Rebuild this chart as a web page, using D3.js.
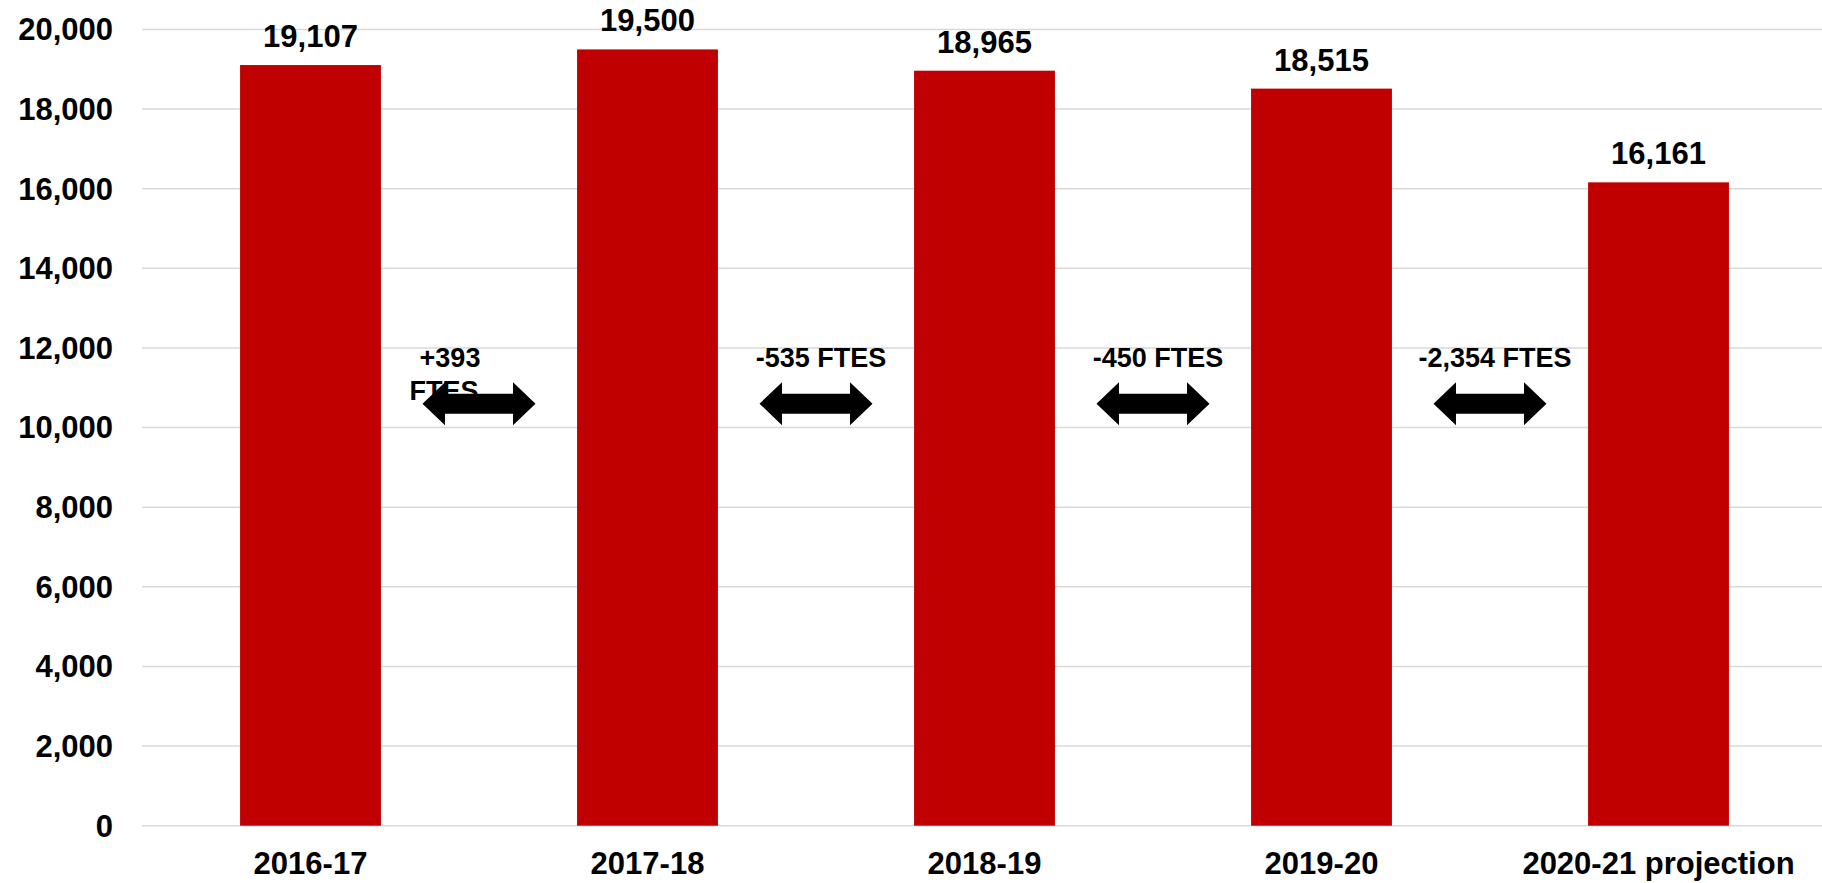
<!DOCTYPE html>
<html>
<head>
<meta charset="utf-8">
<script src="https://cdn.jsdelivr.net/npm/d3@7"></script>
<style>
  body { margin: 0; background: #fff; }
  text { font-family: "Liberation Sans", Arial, sans-serif; font-weight: bold; fill: #000; }
</style>
</head>
<body>
<div id="chart"></div>
<script>
let years = ["2016-17", "2017-18", "2018-19", "2019-20", "2020-21 projection"];
let ftes = [19107, 19500, 18965, 18515, 16161];
let changeLabels = [["+393", "FTES"], ["-535 FTES"], ["-450 FTES"], ["-2,354 FTES"]];
let yTicks = [0, 2000, 4000, 6000, 8000, 10000, 12000, 14000, 16000, 18000, 20000];
let arrowLevel = 10600;

function main(){
    let width = 1822;
    let height = 883;

    let svg = d3.select("#chart").append("svg")
        .attr("width", width)
        .attr("height", height);

    let xScale = d3.scaleBand()
        .domain(years)
        .range([142, 1827])
        .paddingInner(0.582)
        .paddingOuter(0.291);

    let yScale = d3.scaleLinear()
        .domain([0, 20000])
        .range([825.7, 29.5]);

    let fmt = d3.format(",");

    // gridlines
    svg.append("g")
        .selectAll("line")
        .data(yTicks)
        .enter()
        .append("line")
        .attr("x1", 142)
        .attr("x2", width)
        .attr("y1", d => yScale(d))
        .attr("y2", d => yScale(d))
        .attr("stroke", "#d9d9d9")
        .attr("stroke-width", 1.5);

    // y axis labels
    svg.append("g")
        .selectAll("text")
        .data(yTicks)
        .enter()
        .append("text")
        .attr("x", 113)
        .attr("y", d => yScale(d))
        .attr("dy", "0.35em")
        .attr("text-anchor", "end")
        .attr("font-size", 31)
        .text(d => fmt(d));

    // bars
    svg.append("g")
        .selectAll("rect")
        .data(ftes)
        .enter()
        .append("rect")
        .attr("x", (d, i) => xScale(years[i]))
        .attr("y", d => yScale(d))
        .attr("width", xScale.bandwidth())
        .attr("height", d => yScale(0) - yScale(d))
        .attr("fill", "#c00000");

    // value labels
    svg.append("g")
        .selectAll("text")
        .data(ftes)
        .enter()
        .append("text")
        .attr("x", (d, i) => xScale(years[i]) + xScale.bandwidth() / 2)
        .attr("y", d => yScale(d) - 18)
        .attr("text-anchor", "middle")
        .attr("font-size", 31)
        .text(d => fmt(d));

    // x labels
    svg.append("g")
        .selectAll("text")
        .data(years)
        .enter()
        .append("text")
        .attr("x", d => xScale(d) + xScale.bandwidth() / 2)
        .attr("y", yScale(0) + 48)
        .attr("text-anchor", "middle")
        .attr("font-size", 31)
        .text(d => d);

    // change arrows between bars
    let mid = i => (xScale(years[i]) + xScale(years[i + 1])) / 2 + xScale.bandwidth() / 2;
    let ay = yScale(arrowLevel);
    let half = 56.5, head = 22.5, hh = 21.5, sh = 10;
    let arrowShape = [[-half, 0], [-half + head, -hh], [-half + head, -sh], [half - head, -sh],
        [half - head, -hh], [half, 0], [half - head, hh], [half - head, sh],
        [-half + head, sh], [-half + head, hh]];

    let ann = svg.append("g");

    changeLabels.forEach(function(lines, i){
        let cx = mid(i);
        let t = ann.append("text")
            .attr("text-anchor", "middle")
            .attr("font-size", 27)
            .attr("x", lines.length > 1 ? cx - 29 : cx + 5)
            .attr("y", ay - 37);
        lines.forEach(function(l, j){
            t.append("tspan")
                .attr("x", lines.length > 1 ? cx - 29 - (j * 6) : cx + 5)
                .attr("dy", j === 0 ? 0 : 33)
                .text(l);
        });

        ann.append("path")
            .attr("transform", "translate(" + cx + "," + ay + ")")
            .attr("d", d3.line()(arrowShape) + "Z")
            .attr("fill", "#000");
    });
}

main();
</script>
</body>
</html>
